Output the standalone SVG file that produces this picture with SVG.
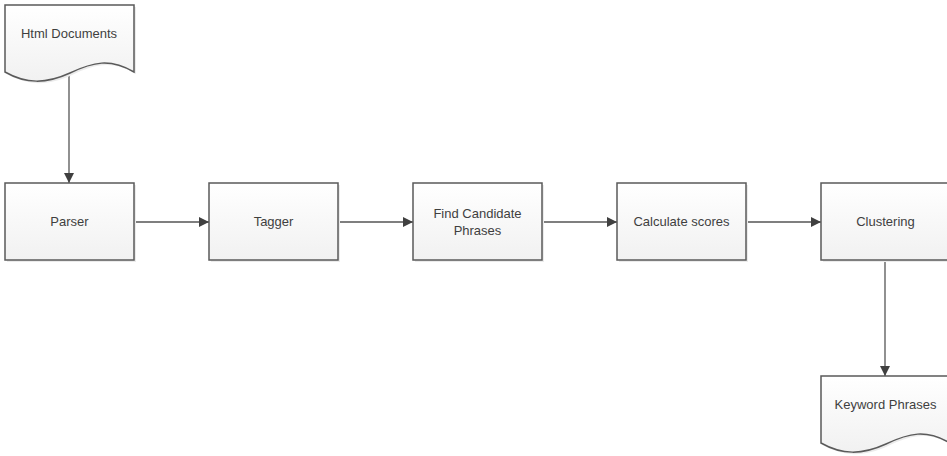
<svg xmlns="http://www.w3.org/2000/svg" width="947" height="456" viewBox="0 0 947 456">
<style>
.box{fill:url(#g);stroke:#5a5a5a;stroke-width:1.5}
.sh{fill:#ebebeb}
.t{font-family:"Liberation Sans",Arial,sans-serif;font-size:13px;fill:#3f3f3f;text-anchor:middle}
.c{stroke:#555;stroke-width:1.3;fill:none;marker-end:url(#a)}
</style>
<defs>
<linearGradient id="g" x1="0" y1="0" x2="0" y2="1">
<stop offset="0" stop-color="#ffffff"/>
<stop offset="1" stop-color="#f1f1f1"/>
</linearGradient>
<marker id="a" viewBox="0 0 10 10" refX="10" refY="5" markerWidth="10" markerHeight="10" markerUnits="userSpaceOnUse" orient="auto">
<path d="M0,0 L10,5 L0,10 Z" fill="#404040"/>
</marker>
</defs>
<rect width="947" height="456" fill="#fff"/>
<g id="connectors">
<path class="c" d="M69,73 V183"/>
<path class="c" d="M134,222 H209"/>
<path class="c" d="M338,222 H413"/>
<path class="c" d="M542,222 H617"/>
<path class="c" d="M746,222 H821"/>
<path class="c" d="M885,260 V376"/>
</g>
<g id="html-documents">
<path class="sh" d="M7,7 H136 V74 C112,60 95,64 72,75 C48,86 28,86 7,74 Z"/>
<path class="box" d="M5,5 H134 V72 C110,58 93,62 70,73 C46,84 26,84 5,72 Z"/>
<text class="t" x="69" y="38">Html Documents</text>
</g>
<g id="parser">
<rect class="sh" x="7" y="185" width="129" height="77"/>
<rect class="box" x="5" y="183" width="129" height="77"/>
<text class="t" x="69.5" y="226">Parser</text>
</g>
<g id="tagger">
<rect class="sh" x="211" y="185" width="129" height="77"/>
<rect class="box" x="209" y="183" width="129" height="77"/>
<text class="t" x="273.5" y="226">Tagger</text>
</g>
<g id="find-candidate-phrases">
<rect class="sh" x="415" y="185" width="129" height="77"/>
<rect class="box" x="413" y="183" width="129" height="77"/>
<text class="t" x="477.5" y="218">Find Candidate</text>
<text class="t" x="477.5" y="235">Phrases</text>
</g>
<g id="calculate-scores">
<rect class="sh" x="619" y="185" width="129" height="77"/>
<rect class="box" x="617" y="183" width="129" height="77"/>
<text class="t" x="681.5" y="226">Calculate scores</text>
</g>
<g id="clustering">
<rect class="sh" x="823" y="185" width="129" height="77"/>
<rect class="box" x="821" y="183" width="129" height="77"/>
<text class="t" x="885.5" y="226">Clustering</text>
</g>
<g id="keyword-phrases">
<path class="sh" d="M823,378 H952 V445 C928,431 911,435 888,446 C864,457 844,457 823,445 Z"/>
<path class="box" d="M821,376 H950 V443 C926,429 909,433 886,444 C862,455 842,455 821,443 Z"/>
<text class="t" x="885.5" y="409">Keyword Phrases</text>
</g>
</svg>
